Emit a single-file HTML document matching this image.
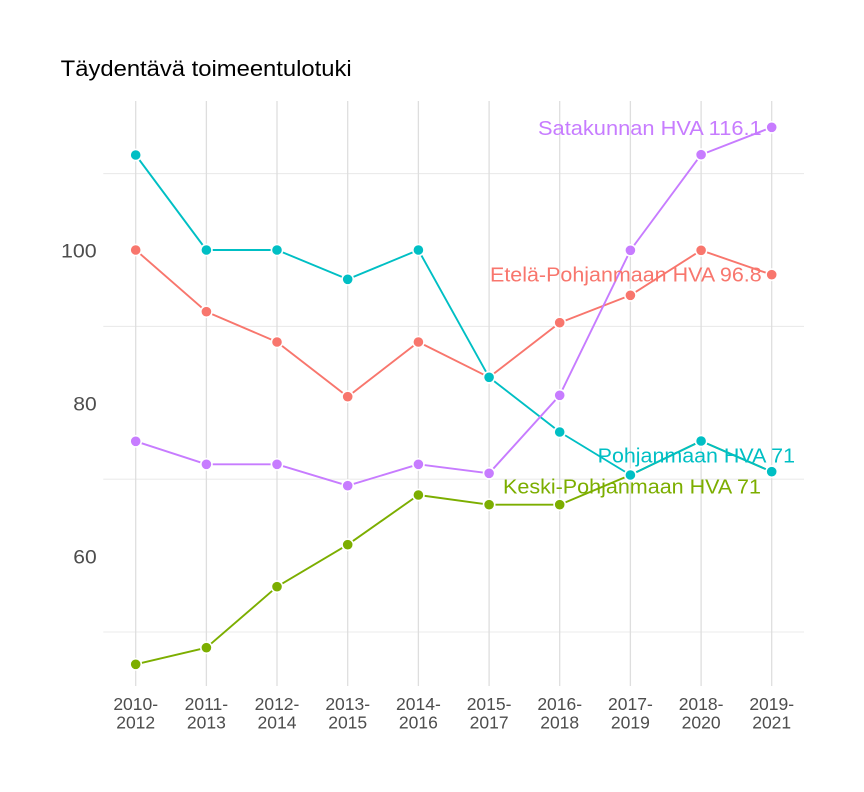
<!DOCTYPE html>
<html>
<head>
<meta charset="utf-8">
<style>
html,body{margin:0;padding:0;background:#fff;}
svg{display:block;}
text{font-family:"Liberation Sans","DejaVu Sans",sans-serif;}
</style>
</head>
<body>
<svg width="864" height="792" viewBox="0 0 864 792" xmlns="http://www.w3.org/2000/svg">
<rect width="864" height="792" fill="#fff"/>
<g stroke="#EBEBEB" stroke-width="1.1">
<line x1="103.3" x2="804" y1="173.6" y2="173.6"/>
<line x1="103.3" x2="804" y1="326.4" y2="326.4"/>
<line x1="103.3" x2="804" y1="479.2" y2="479.2"/>
<line x1="103.3" x2="804" y1="632" y2="632"/>
</g>
<g stroke="#DEDEDE" stroke-width="1.3">
<line x1="135.7" x2="135.7" y1="101" y2="686"/>
<line x1="206.4" x2="206.4" y1="101" y2="686"/>
<line x1="277.0" x2="277.0" y1="101" y2="686"/>
<line x1="347.7" x2="347.7" y1="101" y2="686"/>
<line x1="418.4" x2="418.4" y1="101" y2="686"/>
<line x1="489.1" x2="489.1" y1="101" y2="686"/>
<line x1="559.7" x2="559.7" y1="101" y2="686"/>
<line x1="630.4" x2="630.4" y1="101" y2="686"/>
<line x1="701.1" x2="701.1" y1="101" y2="686"/>
<line x1="771.7" x2="771.7" y1="101" y2="686"/>
</g>
<g fill="none" stroke-width="1.9" stroke-linejoin="round">
<polyline stroke="#F8766D" points="135.7,250 206.4,311.7 277.0,342 347.7,396.7 418.4,342 489.1,377.3 559.7,322.7 630.4,295.3 701.1,250.3 771.7,274.7"/>
<polyline stroke="#7CAE00" points="135.7,664.3 206.4,647.7 277.0,586.7 347.7,544.7 418.4,495 489.1,504.7 559.7,504.7 630.4,475 701.1,441 771.7,471.7"/>
<polyline stroke="#00BFC4" points="135.7,155 206.4,250 277.0,250 347.7,279.3 418.4,250 489.1,377.3 559.7,432 630.4,475 701.1,441 771.7,471.7"/>
<polyline stroke="#C77CFF" points="135.7,441.3 206.4,464.3 277.0,464.3 347.7,485.7 418.4,464.3 489.1,473.3 559.7,395.3 630.4,250.3 701.1,154.7 771.7,127.3"/>
</g>
<g stroke="#fff" stroke-width="1.6">
<g fill="#F8766D">
<circle cx="135.7" cy="250" r="5.6"/><circle cx="206.4" cy="311.7" r="5.6"/><circle cx="277.0" cy="342" r="5.6"/><circle cx="347.7" cy="396.7" r="5.6"/><circle cx="418.4" cy="342" r="5.6"/><circle cx="489.1" cy="377.3" r="5.6"/><circle cx="559.7" cy="322.7" r="5.6"/><circle cx="630.4" cy="295.3" r="5.6"/><circle cx="701.1" cy="250.3" r="5.6"/><circle cx="771.7" cy="274.7" r="5.6"/>
</g>
<g fill="#7CAE00">
<circle cx="135.7" cy="664.3" r="5.6"/><circle cx="206.4" cy="647.7" r="5.6"/><circle cx="277.0" cy="586.7" r="5.6"/><circle cx="347.7" cy="544.7" r="5.6"/><circle cx="418.4" cy="495" r="5.6"/><circle cx="489.1" cy="504.7" r="5.6"/><circle cx="559.7" cy="504.7" r="5.6"/><circle cx="630.4" cy="475" r="5.6"/><circle cx="701.1" cy="441" r="5.6"/><circle cx="771.7" cy="471.7" r="5.6"/>
</g>
<g fill="#00BFC4">
<circle cx="135.7" cy="155" r="5.6"/><circle cx="206.4" cy="250" r="5.6"/><circle cx="277.0" cy="250" r="5.6"/><circle cx="347.7" cy="279.3" r="5.6"/><circle cx="418.4" cy="250" r="5.6"/><circle cx="489.1" cy="377.3" r="5.6"/><circle cx="559.7" cy="432" r="5.6"/><circle cx="630.4" cy="475" r="5.6"/><circle cx="701.1" cy="441" r="5.6"/><circle cx="771.7" cy="471.7" r="5.6"/>
</g>
<g fill="#C77CFF">
<circle cx="135.7" cy="441.3" r="5.6"/><circle cx="206.4" cy="464.3" r="5.6"/><circle cx="277.0" cy="464.3" r="5.6"/><circle cx="347.7" cy="485.7" r="5.6"/><circle cx="418.4" cy="464.3" r="5.6"/><circle cx="489.1" cy="473.3" r="5.6"/><circle cx="559.7" cy="395.3" r="5.6"/><circle cx="630.4" cy="250.3" r="5.6"/><circle cx="701.1" cy="154.7" r="5.6"/><circle cx="771.7" cy="127.3" r="5.6"/>
</g>
</g>
<g font-size="20">
<text x="538" y="135" fill="#C77CFF" textLength="223.7" lengthAdjust="spacingAndGlyphs">Satakunnan HVA 116.1</text>
<text x="490" y="281.7" fill="#F8766D" textLength="271.7" lengthAdjust="spacingAndGlyphs">Etelä-Pohjanmaan HVA 96.8</text>
<text x="597.7" y="462.3" fill="#00BFC4" textLength="197.3" lengthAdjust="spacingAndGlyphs">Pohjanmaan HVA 71</text>
<text x="503" y="493.3" fill="#7CAE00" textLength="258" lengthAdjust="spacingAndGlyphs">Keski-Pohjanmaan HVA 71</text>
</g>
<text x="60.7" y="76" font-size="22" fill="#000" textLength="291" lengthAdjust="spacingAndGlyphs">Täydentävä toimeentulotuki</text>
<g font-size="19" fill="#4D4D4D">
<text x="61" y="257.3" textLength="35.7" lengthAdjust="spacingAndGlyphs">100</text>
<text x="73.3" y="410.7" textLength="23.4" lengthAdjust="spacingAndGlyphs">80</text>
<text x="73.3" y="563.3" textLength="23.4" lengthAdjust="spacingAndGlyphs">60</text>
</g>
<g font-size="17.5" fill="#4D4D4D" text-anchor="middle">
<text x="135.7" y="710">2010-</text><text x="135.7" y="728.3">2012</text>
<text x="206.4" y="710">2011-</text><text x="206.4" y="728.3">2013</text>
<text x="277.0" y="710">2012-</text><text x="277.0" y="728.3">2014</text>
<text x="347.7" y="710">2013-</text><text x="347.7" y="728.3">2015</text>
<text x="418.4" y="710">2014-</text><text x="418.4" y="728.3">2016</text>
<text x="489.1" y="710">2015-</text><text x="489.1" y="728.3">2017</text>
<text x="559.7" y="710">2016-</text><text x="559.7" y="728.3">2018</text>
<text x="630.4" y="710">2017-</text><text x="630.4" y="728.3">2019</text>
<text x="701.1" y="710">2018-</text><text x="701.1" y="728.3">2020</text>
<text x="771.7" y="710">2019-</text><text x="771.7" y="728.3">2021</text>
</g>
</svg>
</body>
</html>
